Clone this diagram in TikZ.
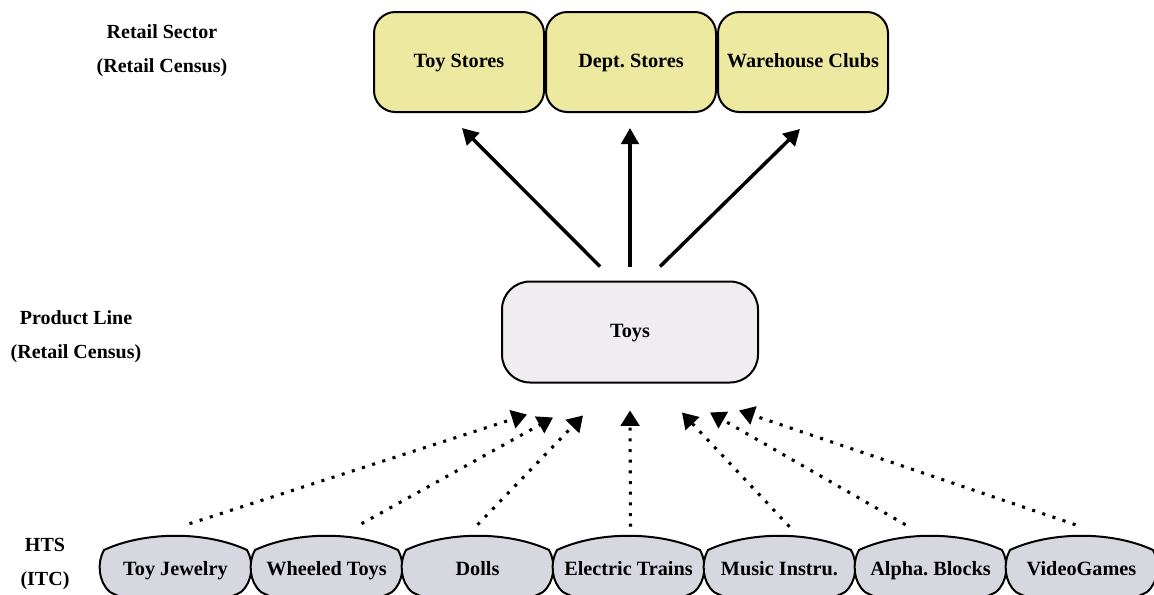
\documentclass[tikz,border=0pt]{standalone}
\usepackage{fontspec}
\setmainfont{Liberation Serif}
\usetikzlibrary{arrows.meta,positioning,calc}
\definecolor{storeyellow}{RGB}{238,233,160}
\definecolor{toyspink}{RGB}{241,236,240}
\definecolor{htsgray}{RGB}{215,216,223}
\frenchspacing

\begin{document}
\begin{tikzpicture}[
  x=0.75pt, y=-0.75pt,
  font=\bfseries\fontsize{15.2}{17}\selectfont,
  line/.style={draw=black, line width=1.5pt, line join=round},
  boxtext/.style={text height=11pt, text depth=3.5pt},
  store/.style={line, boxtext, fill=storeyellow, rounded corners=16pt,
    minimum width=127.5pt, minimum height=75pt},
  toysbox/.style={line, boxtext, fill=toyspink, rounded corners=21pt,
    minimum width=192pt, minimum height=75.75pt},
  barrel/.style={line, fill=htsgray},
  htslabel/.style={boxtext, minimum width=113pt, minimum height=48pt, inner sep=0pt},
  level/.style={align=center, font=\bfseries\fontsize{15}{25.5}\selectfont},
  arrow/.style={-{Triangle[length=12pt,width=13pt]}, line width=2.6pt},
  dotarrow/.style={-{Triangle[length=11.5pt,width=14pt]}, line width=2.3pt,
    dash pattern=on 2.3pt off 5.7pt}
]
\useasboundingbox (0,0) rectangle (1154,594);

% Level labels.
\node[level] (retail) at (162,51) {Retail Sector\\(Retail Census)};
\node[level] (product) at (76,337) {Product Line\\(Retail Census)};
\node[level] (hts) at (45,564) {HTS\\(ITC)};

% Retail sector.
\node[store] (toystores) at (459,62) {Toy Stores};
\node[store] (deptstores) at (631,62) {Dept. Stores};
\node[store] (warehouse) at (803,62) {Warehouse Clubs};

% Product line.
\node[toysbox] (toys) at (630,332) {Toys};

% HTS categories.
\foreach \name/\txt [count=\i] in {jewel/Toy Jewelry, wheel/Wheeled Toys,
    dolls/Dolls, trains/Electric Trains, music/Music Instru.,
    blocks/Alpha. Blocks, video/VideoGames} {
  \pgfmathsetmacro{\lx}{100+151*(\i-1)}
  \pgfmathsetmacro{\rx}{\lx+151}
  \draw[barrel] (\lx+4,550) .. controls (\lx+45,531) and (\rx-45,531) .. (\rx-4,550)
    .. controls (\rx+3,562) and (\rx+2,582) .. (\rx-10,592)
    .. controls (\rx-45,611) and (\lx+45,611) .. (\lx+10,592)
    .. controls (\lx-2,582) and (\lx-3,562) .. cycle;
  \node[htslabel] (\name) at (\lx+75.5,570) {\txt};
}

% Product line to retail sector.
\draw[arrow] ($(toys.north)+(-30,-14)$) -- ($(toystores.south)+(3,15)$);
\draw[arrow] ($(toys.north)+(0,-14)$) -- ($(deptstores.south)+(-1,15)$);
\draw[arrow] ($(toys.north)+(30,-14)$) -- ($(warehouse.south)+(-3,16)$);

% HTS to product line.
\draw[dotarrow] ($(jewel.north)+(14,-14)$) -- ($(toys.south)+(-103,31)$);
\draw[dotarrow] ($(wheel.north)+(35,-14)$) -- ($(toys.south)+(-77,34)$);
\draw[dotarrow] ($(dolls.north)+(0,-13)$) -- ($(toys.south)+(-47,32)$);
\draw[dotarrow] ($(trains.north)+(2,-11)$) -- ($(toys.south)+(0,27)$);
\draw[dotarrow] ($(music.north)+(10,-11)$) -- ($(toys.south)+(52,29)$);
\draw[dotarrow] ($(blocks.north)+(-25,-13)$) -- ($(toys.south)+(80,29)$);
\draw[dotarrow] ($(video.north)+(-6,-13)$) -- ($(toys.south)+(109,27)$);

\end{tikzpicture}
\end{document}
